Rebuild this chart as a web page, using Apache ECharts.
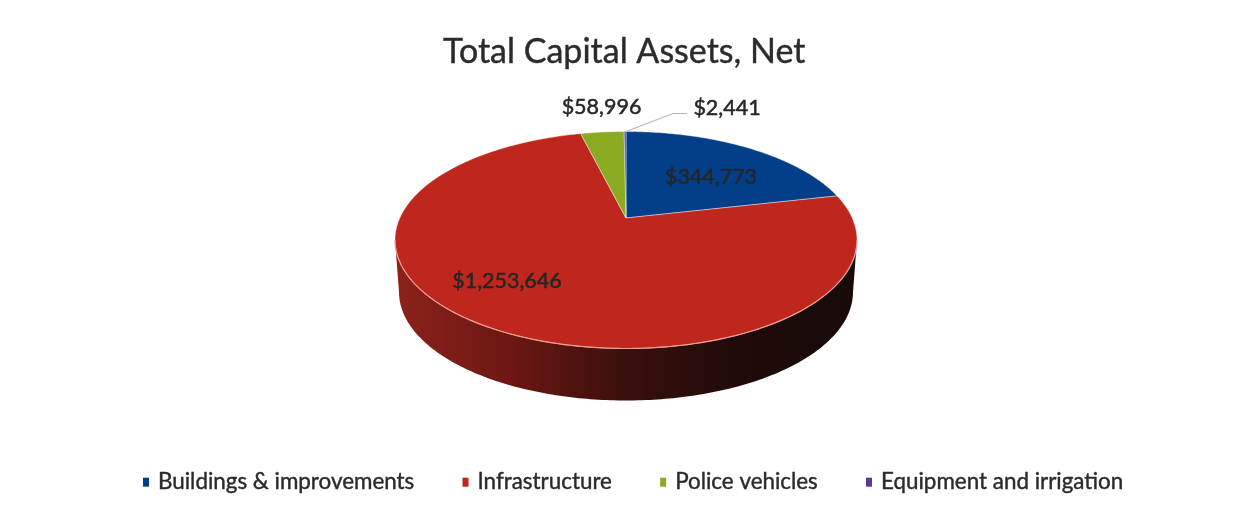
<!DOCTYPE html>
<html><head><meta charset="utf-8">
<style>html,body{margin:0;padding:0;background:#fff}#c{width:1236px;height:521px}</style>
<script src="https://cdn.jsdelivr.net/npm/echarts@6/dist/echarts.min.js"></script>
</head><body><div id="c"></div>
<script>
const categories = ['Buildings & improvements','Infrastructure','Police vehicles','Equipment and irrigation'];
const values = [344773,1253646,58996,2441];
const valueLabels = ['$344,773','$1,253,646','$58,996','$2,441'];
const colors = ['#033f88','#bf261d','#8aab21','#5b3a92'];

const FONT = 'Lato';
const C = {cx:626, cy:240, rx:231, ry:108.5, k:0.85, hubY:218, depth:52, rxB:227};
const total = values.reduce((a,b)=>a+b,0);
const labelAnchor = [[711,177,'center'],[507,281,'center'],[601.5,107,'center'],[727,108,'center']];

// a pie angle (radians clockwise from 12 o'clock) seen in perspective: the rim stays an ellipse, the hub sits behind its centre
function rim(theta){
  const t = 2*Math.atan(C.k*Math.tan(theta/2));
  return [C.cx + C.rx*Math.sin(t), C.cy - C.ry*Math.cos(t)];
}

function renderSlice(i){
  return function(params, api){
    const v = api.value(0);
    const before = values.slice(0,i).reduce((a,b)=>a+b,0);
    const a0 = before/total*2*Math.PI, a1 = (before+v)/total*2*Math.PI;
    const pts = [[C.cx,C.hubY]];
    const n = Math.max(2, Math.ceil((a1-a0)/0.01));
    for(let j=0;j<=n;j++){
      const a = a0+(a1-a0)*j/n;
      pts.push(a>=Math.PI*2-1e-9 ? [C.cx,C.cy-C.ry] : (Math.abs(a-Math.PI)<1e-9 ? [C.cx,C.cy+C.ry] : rim(a)));
    }
    const children = [];
    // the front wall belongs to the slice that crosses the bottom of the pie
    if(a0<Math.PI && a1>Math.PI){
      const top=[], bottom=[];
      for(let j=0;j<=180;j++){
        const t=Math.PI/2+Math.PI*j/180;
        top.push([C.cx+C.rx*Math.sin(t), C.cy-C.ry*Math.cos(t)]);
        bottom.push([C.cx+C.rxB*Math.sin(t), C.cy+C.depth-C.ry*Math.cos(t)]);
      }
      children.push({type:'polygon',shape:{points:top.concat(bottom.reverse())},
        style:{fill:new echarts.graphic.LinearGradient(C.cx-C.rxB,0,C.cx+C.rxB,0,[
          {offset:0,color:'#8c211b'},{offset:0.25,color:'#6b1713'},{offset:0.5,color:'#3a0f0c'},
          {offset:0.75,color:'#1f0b09'},{offset:1,color:'#170b0a'}],true)}});
    }
    children.push({type:'polygon',shape:{points:pts},
      style:{fill:colors[i],stroke:'rgba(255,255,255,0.4)',lineWidth:1,lineJoin:'round'}});
    if(i===1){
      const edge=[];
      for(let j=0;j<=180;j++){
        const t=Math.PI/2+Math.PI*j/180;
        edge.push([C.cx+C.rx*Math.sin(t), C.cy-C.ry*Math.cos(t)]);
      }
      children.push({type:'polyline',shape:{points:edge},style:{fill:null,stroke:'#ee9c8c',lineWidth:1.2}});
    }
    if(i===3){
      const p=rim((a0+a1)/2);
      children.push({type:'polyline',shape:{points:[[p[0]+1,p[1]],[C.cx+47,113.5],[C.cx+61,113.5]]},
        style:{fill:null,stroke:'#b5b5b5',lineWidth:1.2}});
    }
    const la=labelAnchor[i];
    children.push({type:'text',z2:10,style:{x:la[0],y:la[1],text:valueLabels[i],align:la[2],verticalAlign:'middle',
      fontFamily:FONT,fontSize:21.5,fill:'#262626',stroke:'#262626',lineWidth:0.5}});
    return {type:'group',children};
  };
}

const chart = echarts.init(document.getElementById('c'),null,{renderer:'canvas'});
chart.setOption({
  animation:false,
  backgroundColor:'#fff',
  title:{text:'Total Capital Assets, Net',top:30,left:438,
    textStyle:{fontFamily:FONT,fontSize:34,fontWeight:'normal',color:'#2b2b2b',textBorderColor:'#2b2b2b',textBorderWidth:0.4}},
  legend:{data:categories,left:138,top:466,icon:'rect',itemWidth:6,itemHeight:9,itemGap:48,
    textStyle:{fontFamily:FONT,fontSize:22.4,color:'#2a2a2a',padding:[0,0,0,4],textBorderColor:'#2a2a2a',textBorderWidth:0.4}},
  series:categories.map((name,i)=>({
    type:'custom',name,coordinateSystem:'none',silent:true,
    itemStyle:{color:colors[i]},
    data:[[values[i]]],
    renderItem:renderSlice(i)
  }))
});
</script></body></html>
